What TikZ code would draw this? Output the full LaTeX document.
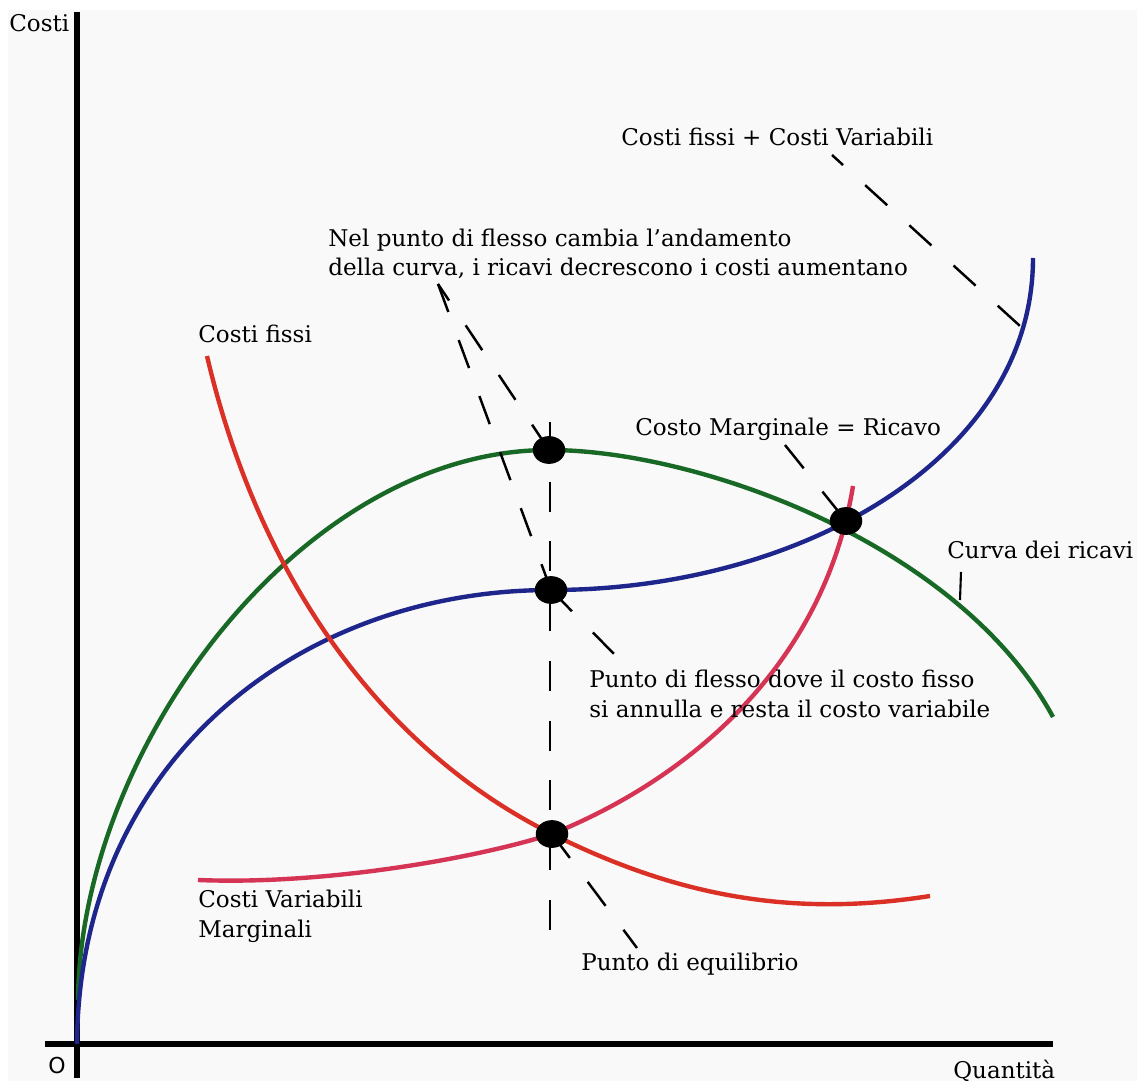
\documentclass[tikz,border=0pt]{standalone}
\usepackage{fontspec}
\setmainfont{DejaVu Serif}
\setsansfont{DejaVu Sans}
\usetikzlibrary{shapes.geometric}
\definecolor{ricavigreen}{RGB}{24,104,38}
\definecolor{costiblue}{RGB}{30,38,140}
\definecolor{fissired}{RGB}{218,48,38}
\definecolor{margred}{RGB}{214,52,84}
\definecolor{sfondo}{RGB}{249,249,249}
\begin{document}
    \begin{tikzpicture}[x=0.02cm,y=-0.02cm,
        curve/.style={line width=2.5pt},
        guide/.style={line width=1.4pt,dash pattern=on 17pt off 17pt},
        dot/.style={ellipse,fill=black,minimum width=18.5pt,minimum height=15.8pt,inner sep=0pt},
        lbl/.style={font=\fontsize{13.1}{17}\selectfont,inner sep=0pt,anchor=base west,align=left}]
        \useasboundingbox (0,0) rectangle (1137,1081);
        \fill[sfondo] (8,10) rectangle (1137,1081);
        \draw[line width=3pt] (77,12) -- (77,1078);
        \draw[line width=3pt] (45,1044) -- (1053,1044);
        \coordinate (topPt) at (549,450);
        \coordinate (midPt) at (551,590);
        \coordinate (eqPt) at (552,834);
        \coordinate (cmrPt) at (846,521);
        \draw[curve,ricavigreen] (78,1000) .. controls (80,750) and (300,450) .. (topPt) .. controls (700,450) and (960,545) .. (1053,717);
        \draw[curve,costiblue] (77,1044) .. controls (79,760) and (300,590) .. (midPt) .. controls (800,590) and (1033,458) .. (1033,258);
        \draw[curve,fissired] (207,356) .. controls (262,590) and (391,754) .. (eqPt) .. controls (686,901) and (802,916) .. (930,896);
        \draw[curve,margred] (198,880) .. controls (320,885) and (470,860) .. (eqPt) .. controls (691,778) and (824,664) .. (853,486);
        \coordinate (vTop) at (550,422);
        \coordinate (vBot) at (550,932);
        \coordinate (flessoTip) at (438,284);
        \coordinate (flesso2End) at (620,660);
        \coordinate (equilEnd) at (637,948);
        \coordinate (cmrStart) at (785,445);
        \coordinate (cfcvStart) at (832,155);
        \coordinate (cfcvEnd) at (1020,326);
        \coordinate (ricaviTop) at (961,572);
        \coordinate (ricaviEnd) at (960,600);
        \draw[guide] (vTop) -- (vBot);
        \draw[guide,dash phase=5.7pt] (flessoTip) -- (topPt);
        \draw[guide] (flessoTip) -- (midPt);
        \draw[guide] (midPt) -- (flesso2End);
        \draw[guide] (eqPt) -- (equilEnd);
        \draw[guide] (cmrStart) -- (cmrPt);
        \draw[guide,dash phase=8.5pt] (cfcvStart) -- (cfcvEnd);
        \draw[line width=1.2pt] (ricaviTop) -- (ricaviEnd);
        \node[dot] (topDot) at (topPt) {};
        \node[dot] (midDot) at (midPt) {};
        \node[dot] (eqDot) at (eqPt) {};
        \node[dot] (cmrDot) at (cmrPt) {};
        \node[lbl] (costi) at (9,32) {Costi};
        \node[lbl,font=\sffamily\fontsize{12.5}{17}\selectfont] (origine) at (48,1073) {O};
        \node[lbl] (quantita) at (953,1078) {Quantità};
        \node[lbl] (fissiLbl) at (198,343) {Costi fissi};
        \node[lbl] (cfcvLbl) at (621,146) {Costi fissi + Costi Variabili};
        \node[lbl] (flessoLbl) at (328,276) {Nel punto di flesso cambia l’andamento\\della curva, i ricavi decrescono i costi aumentano};
        \node[lbl] (cmrLbl) at (635,436) {Costo Marginale = Ricavo};
        \node[lbl] (ricaviLbl) at (947,559) {Curva dei ricavi};
        \node[lbl] (flesso2Lbl) at (589,717) {Punto di flesso dove il costo fisso\\si annulla e resta il costo variabile};
        \node[lbl] (equilLbl) at (581,970) {Punto di equilibrio};
        \node[lbl] (cvmLbl) at (198,937) {Costi Variabili\\Marginali};
    \end{tikzpicture}
\end{document}
